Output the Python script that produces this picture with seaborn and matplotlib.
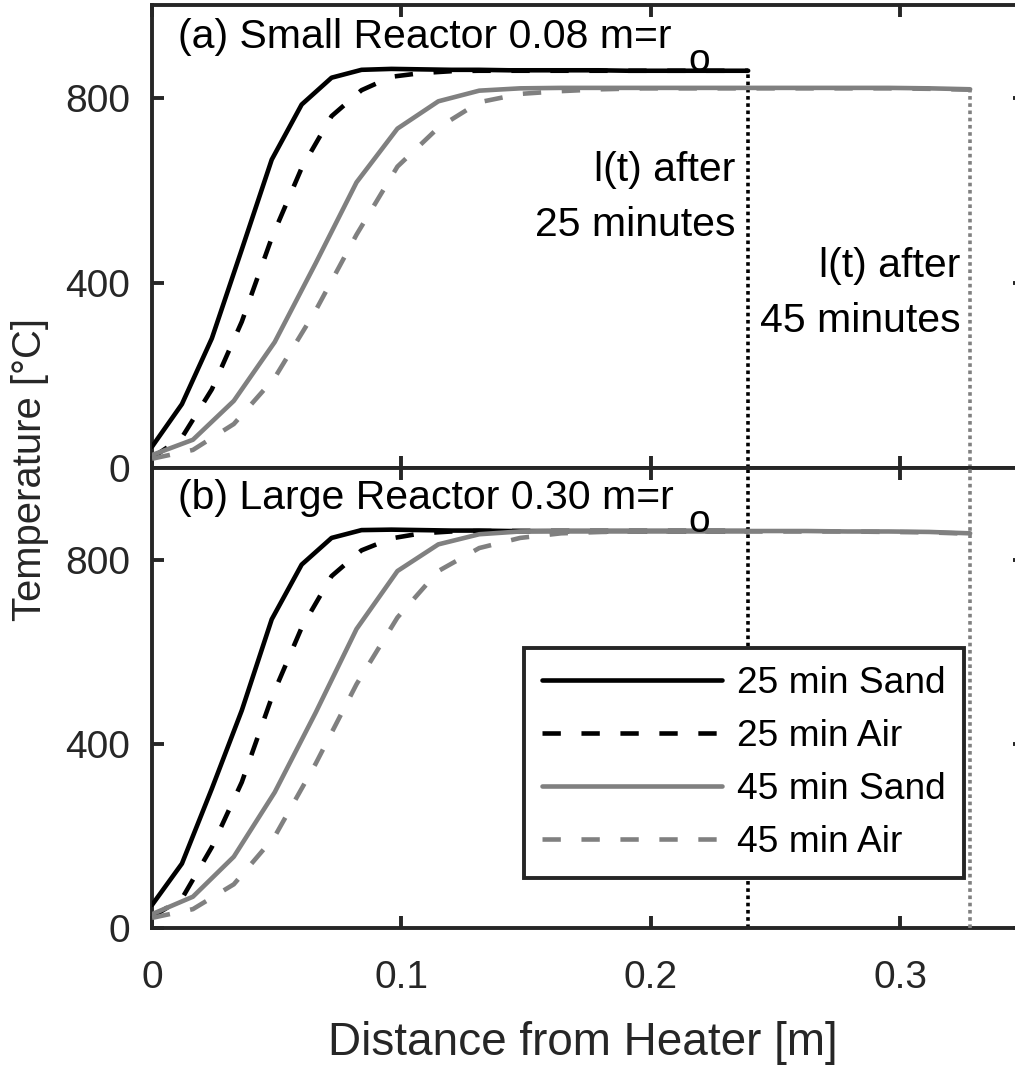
import numpy as np
import pandas as pd
import matplotlib
matplotlib.use("Agg")
import matplotlib.pyplot as plt
import seaborn as sns

# distance grids [m]
x25 = [0.0, 0.012, 0.024, 0.036, 0.048, 0.060, 0.072, 0.084, 0.096, 0.108, 0.120,
       0.131, 0.143, 0.155, 0.167, 0.179, 0.191, 0.203, 0.215, 0.227, 0.239]
x45 = [0.0, 0.0164, 0.0328, 0.0492, 0.0656, 0.082, 0.0984, 0.1148, 0.1312, 0.1476, 0.164,
       0.1804, 0.1968, 0.2132, 0.2296, 0.246, 0.2624, 0.2788, 0.2952, 0.3116, 0.328]

# (a) small reactor, temperature [C]
sand25_a = [46, 138, 280, 472, 666, 785, 843, 860, 862, 861, 860,
            860, 859, 859, 859, 859, 858, 858, 858, 858, 858]
air25_a = [22, 66, 170, 316, 497, 648, 760, 816, 845, 853, 857,
           858, 858, 858, 858, 858, 858, 858, 858, 858, 858]
sand45_a = [28, 61, 145, 272, 442, 617, 733, 792, 815, 820, 821,
            821, 821, 821, 821, 821, 821, 821, 821, 820, 818]
air45_a = [20, 39, 95, 195, 340, 504, 651, 735, 790, 808, 814,
           818, 820, 820, 820, 820, 820, 820, 820, 819, 817]

# (b) large reactor
sand25_b = [50, 140, 303, 473, 671, 790, 848, 865, 866, 865, 864,
            864, 863, 863, 863, 863, 863, 863, 863, 863, 863]
air25_b = [24, 64, 176, 317, 501, 653, 765, 821, 847, 858, 862,
           863, 863, 863, 863, 863, 863, 863, 863, 863, 863]
sand45_b = [30, 68, 155, 295, 468, 650, 776, 834, 856, 862, 863,
            863, 863, 863, 863, 863, 863, 862, 862, 861, 858]
air45_b = [22, 41, 95, 199, 357, 530, 675, 776, 826, 848, 858,
           861, 862, 862, 862, 862, 862, 862, 861, 860, 857]

labels = ["25 min Sand", "25 min Air", "45 min Sand", "45 min Air"]
titles = ["(a) Small Reactor 0.08 m=r", "(b) Large Reactor 0.30 m=r"]

INK = "#262626"
GRAY = "#808080"
DASH = (4, 4.5)

sns.set_theme(style="ticks")
plt.rcParams["font.family"] = ["Liberation Sans", "DejaVu Sans"]
plt.rcParams["text.color"] = "black"

fig = plt.figure(figsize=(10.15, 10.65), dpi=100)
left, width = 152 / 1015, (1025 - 152) / 1015
ax_a = fig.add_axes([left, 1 - 468 / 1065, width, (468 - 5) / 1065])
ax_b = fig.add_axes([left, 1 - 928 / 1065, width, 460 / 1065])

panels = [
    (ax_a, [sand25_a, air25_a, sand45_a, air45_a]),
    (ax_b, [sand25_b, air25_b, sand45_b, air45_b]),
]
styles = [("black", None), ("black", DASH), (GRAY, None), (GRAY, DASH)]
xs = [x25, x25, x45, x45]

for k, (ax, series) in enumerate(panels):
    # front position lines
    if k == 0:
        ax.vlines(x25[-1], 0, series[0][-1], color="black", lw=2.6,
                  linestyles=(0, (1, 1)), zorder=1)
        ax.vlines(x45[-1], 0, series[2][-1], color=GRAY, lw=2.6,
                  linestyles=(0, (1, 1)), zorder=1)
    else:
        ax.axvline(x25[-1], color="black", lw=2.6, ls=(0, (1, 1)), zorder=1)
        ax.axvline(x45[-1], color=GRAY, lw=2.6, ls=(0, (1, 1)), zorder=6)

    for xv, yv, (col, dash), lab in zip(xs, series, styles, labels):
        df = pd.DataFrame({"x": xv, "T": yv})
        kw = dict(dashes=dash) if dash else {}
        sns.lineplot(data=df, x="x", y="T", ax=ax, color=col, lw=3.3,
                     label=lab, legend=False, zorder=3, **kw)

    ax.set_xlim(0, 0.35)
    ax.set_ylim(0, 1000)
    ax.set_xticks([0, 0.1, 0.2, 0.3])
    ax.set_yticks([0, 400, 800])
    ax.set_xlabel("")
    ax.set_ylabel("")
    for sp in ax.spines.values():
        sp.set_visible(True)
        sp.set_color(INK)
        sp.set_linewidth(2.8)
    ax.tick_params(direction="in", top=True, right=True, length=8.5, width=2.8,
                   color=INK, labelcolor=INK, labelsize=28)
    ax.tick_params(axis="x", pad=23)
    ax.tick_params(axis="y", pad=16)
    ax.set_xticklabels(["0", "0.1", "0.2", "0.3"])

    ax.text(0.0104, 930 if k == 0 else 935, titles[k], fontsize=29.5,
            va="center", ha="left")
    ax.text(0.2195, 880 if k == 0 else 882, "o", fontsize=28,
            va="center", ha="center")

ax_a.tick_params(axis="x", labelbottom=False)

ax_a.text(0.234, 643, "l(t) after", fontsize=29.5, ha="right", va="center")
ax_a.text(0.234, 525, "25 minutes", fontsize=29.5, ha="right", va="center")
ax_a.text(0.324, 437, "l(t) after", fontsize=29.5, ha="right", va="center")
ax_a.text(0.324, 318, "45 minutes", fontsize=29.5, ha="right", va="center")

leg = ax_b.legend(loc="upper left", bbox_to_anchor=(0.426, 0.609),
                  borderaxespad=0, fontsize=26.7, handlelength=4.85,
                  handletextpad=0.4, labelspacing=0.48, borderpad=0.5,
                  fancybox=False, framealpha=1, edgecolor=INK)
leg.get_frame().set_linewidth(2.8)
leg.set_zorder(5)

fig.text(30 / 1015, 1 - 470 / 1065, "Temperature [°C]", rotation=90,
         fontsize=28.8, color=INK, ha="center", va="center")
fig.text(583 / 1015, 1 - 1043 / 1065, "Distance from Heater [m]",
         fontsize=33, color=INK, ha="center", va="center")

fig.savefig("out.png", dpi=100)
